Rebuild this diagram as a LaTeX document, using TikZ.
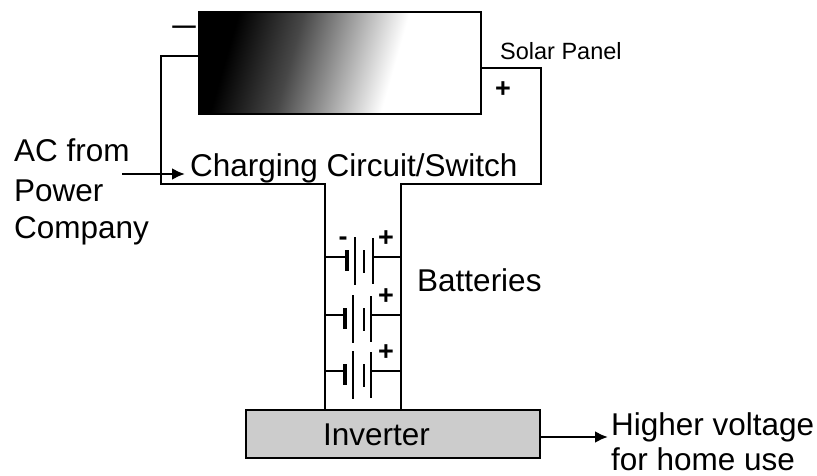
\documentclass[tikz,border=0pt]{standalone}
\usepackage{fontspec}
\usetikzlibrary{arrows.meta}
\setmainfont{Liberation Sans}
\pgfdeclarehorizontalshading{panelshade}{100bp}{color(0bp)=(black);color(27bp)=(black);color(40bp)=(black!72);color(61bp)=(white);color(100bp)=(white)}
\tikzset{
    wire/.style={line width=2.8pt},
    plate/.style={line width=2.5pt},
    biglabel/.style={inner sep=0pt,anchor=base west,align=left,font=\fontsize{31.5}{38}\selectfont},
    smalllabel/.style={inner sep=0pt,font=\fontsize{23.5}{28}\selectfont}
}
\begin{document}
\begin{tikzpicture}[x=1pt,y=-1pt,>={Latex[length=13pt,width=12pt]}]
    \useasboundingbox (0,0) rectangle (817,476);
    \node[draw,wire,inner sep=0pt,minimum width=282pt,minimum height=102pt,shading=panelshade,shading angle=-16] (panel) at (340,63) {};
    \node[draw,wire,fill=black!20,inner sep=0pt,minimum width=294pt,minimum height=48pt] (inverter) at (393,434) {};
    \node[biglabel] (inverterlabel) at (323,445) {Inverter};
    \node[biglabel] (charging) at (190,177) {Charging Circuit/Switch};
    \node[biglabel] (acfrom) at (14,162) {AC from};
    \node[biglabel] (power) at (14,201) {Power};
    \node[biglabel] (company) at (14,238) {Company};
    \node[biglabel] (batteries) at (417,291) {Batteries};
    \node[biglabel] (higher) at (611,435) {Higher voltage};
    \node[biglabel] (forhome) at (611,470) {for home use};
    \node[smalllabel,anchor=west] (solar) at (500,51) {Solar Panel};
    \node[smalllabel,font=\fontsize{27}{30}\selectfont\bfseries] (panelplus) at (503,90) {+};
    \node[smalllabel,font=\fontsize{23.5}{28}\selectfont\bfseries] (panelminus) at (184,30) {—};
    \coordinate (neg) at (199,56);
    \coordinate (pos) at (481,68);
    \coordinate (negbus) at (325,410);
    \coordinate (posbus) at (401,410);
    \coordinate (acstart) at (122,174);
    \coordinate (actip) at (185,174);
    \coordinate (homestart) at (540,437);
    \coordinate (hometip) at (608,437);
    \draw[wire] (neg) -- (161,56) -- (161,184) -- (325,184) -- (negbus);
    \draw[wire] (pos) -- (541,68) -- (541,184) -- (401,184) -- (posbus);
    \draw[wire,->] (acstart) -- (actip);
    \draw[wire,->] (homestart) -- (hometip);
    \foreach \i/\dx/\y in {1/0/257,2/-2/315,3/-2/371}{
        \coordinate (cellleft\i) at (325,\y);
        \coordinate (cellright\i) at (401,\y);
        \draw[wire] (cellleft\i) -- (347+\dx,\y);
        \draw[line width=3.2pt] (347+\dx,\y-7) -- (347+\dx,\y+14);
        \draw[plate] (355+\dx,\y-20) -- (355+\dx,\y+28);
        \draw[plate] (364,\y-7) -- (364,\y+16);
        \draw[plate] (373+\dx,\y-19) -- (373+\dx,\y+27);
        \draw[wire] (373+\dx,\y) -- (cellright\i);
        \node[inner sep=0pt,font=\fontsize{27}{30}\selectfont\bfseries] (cellplus\i) at (386,\y-18) {+};
    }
    \node[inner sep=0pt,font=\fontsize{27}{30}\selectfont\bfseries] (cellminus) at (343,241) {-};
\end{tikzpicture}
\end{document}
